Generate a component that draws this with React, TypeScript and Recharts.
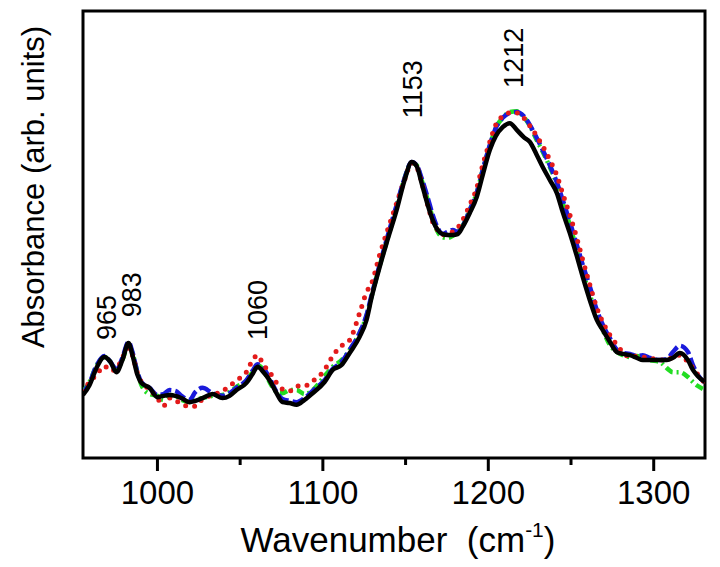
import React from 'react';
import { LineChart, Line, XAxis, YAxis, ReferenceDot, ReferenceArea, Label, Customized } from 'recharts';

const wavenumbers = [955, 958.9, 963.1, 967.9, 971.6, 975.2, 978.8, 982.5, 984.9, 987.9, 990.3, 995.2, 1000, 1003.6, 1007.3, 1010.9, 1014.5, 1019.4, 1023.0, 1027.2, 1033.3, 1039.3, 1043.6, 1047.8, 1053.8, 1057.5, 1060.5, 1064.1, 1067.8, 1072.0, 1075.6, 1079.9, 1084.1, 1088.9, 1093.8, 1101.0, 1105.9, 1111.3, 1116.2, 1122.2, 1126.4, 1129.5, 1134.3, 1138.5, 1144.6, 1149.4, 1153.7, 1156.7, 1159.7, 1163.4, 1166.4, 1169.4, 1172.4, 1175.5, 1178.5, 1181.5, 1184.5, 1188.8, 1193.0, 1196.6, 1200.9, 1204.5, 1208.7, 1213.0, 1217.2, 1221.4, 1225.1, 1229.3, 1232.9, 1237.2, 1241.4, 1245.0, 1249.3, 1253.5, 1257.1, 1261.4, 1265.6, 1269.2, 1273.5, 1277.7, 1281.3, 1285.6, 1289.8, 1293.4, 1297.7, 1303.7, 1307.9, 1311.6, 1315.8, 1320.7, 1323.7, 1326.7, 1331];

const blackSpectrum = [14.1, 16.3, 20.1, 22.6, 21.5, 19.2, 21.9, 25.7, 23.0, 18.6, 16.8, 15.7, 13.6, 13.9, 14.1, 13.9, 13.4, 12.5, 12.8, 13.4, 14.3, 13.4, 13.9, 15.2, 16.8, 18.8, 20.4, 19.2, 17.4, 14.5, 12.5, 12.3, 11.9, 13.0, 14.5, 17.0, 19.7, 20.8, 23.5, 27.1, 30.9, 36.0, 42.7, 48.1, 55.5, 62.2, 66.2, 65.3, 61.5, 56.6, 53.2, 51.0, 50.1, 49.9, 49.9, 50.1, 51.7, 54.8, 58.4, 63.3, 68.9, 72.0, 74.0, 74.9, 73.4, 71.8, 70.7, 67.8, 65.1, 62.2, 59.3, 55.0, 50.3, 45.2, 40.5, 35.3, 30.9, 28.6, 26.0, 23.7, 23.3, 23.0, 22.4, 21.9, 21.9, 21.9, 21.9, 22.4, 23.5, 21.9, 19.7, 18.3, 17.0];

const blueSpectrum = [14.5, 16.8, 20.6, 22.8, 21.5, 19.7, 22.4, 26.0, 23.7, 19.2, 17.0, 15.7, 14.1, 14.3, 15.2, 15.0, 13.9, 13.0, 14.8, 15.7, 14.5, 13.9, 14.5, 15.7, 17.4, 19.5, 21.0, 20.1, 17.9, 14.8, 13.2, 12.8, 12.5, 13.4, 15.0, 17.4, 19.9, 21.5, 24.2, 28.0, 32.0, 36.5, 43.2, 48.8, 56.6, 62.6, 66.2, 65.5, 62.6, 58.2, 54.4, 51.5, 50.1, 50.6, 51.0, 50.6, 51.9, 55.5, 59.3, 64.4, 70.0, 73.8, 76.1, 77.2, 77.4, 76.5, 74.5, 71.6, 68.9, 65.5, 61.7, 57.7, 52.8, 47.7, 43.2, 38.3, 33.1, 29.8, 26.8, 24.2, 23.5, 23.3, 22.8, 23.0, 22.4, 21.9, 22.1, 23.7, 25.1, 23.7, 20.8, 18.6, 16.8];

const greenSpectrum = [14.8, 17.0, 20.6, 22.6, 21.5, 19.7, 21.9, 25.3, 23.5, 19.2, 16.3, 14.3, 13.9, 13.0, 14.1, 13.9, 13.0, 12.5, 13.0, 13.4, 13.9, 14.1, 14.8, 15.9, 17.4, 19.2, 20.8, 19.7, 17.0, 14.8, 14.5, 15.2, 15.2, 14.3, 15.2, 18.3, 20.4, 21.9, 24.2, 28.0, 31.8, 36.2, 43.0, 48.3, 56.2, 62.6, 66.0, 65.5, 62.2, 57.7, 53.7, 50.6, 49.4, 49.2, 49.7, 50.6, 51.9, 55.5, 59.3, 64.4, 69.8, 73.8, 76.1, 77.4, 77.6, 76.3, 74.3, 71.1, 68.5, 65.1, 61.3, 57.0, 52.1, 46.5, 41.6, 36.5, 31.8, 28.6, 25.3, 23.7, 23.0, 22.6, 22.8, 22.4, 21.9, 21.5, 20.1, 19.2, 19.2, 18.1, 17.0, 16.1, 15.2];

const redSpectrum = [14.8, 17.0, 18.6, 20.6, 19.5, 19.9, 22.4, 24.6, 23.0, 19.0, 17.0, 15.4, 13.4, 11.6, 13.4, 13.0, 11.9, 11.6, 11.6, 13.2, 14.1, 15.0, 16.1, 17.4, 19.2, 21.9, 23.0, 20.8, 19.2, 16.8, 15.4, 15.0, 16.1, 16.1, 17.2, 19.7, 22.8, 25.1, 26.4, 32.4, 37.1, 39.1, 45.4, 50.3, 57.0, 62.2, 66.0, 65.1, 61.7, 56.6, 52.8, 51.0, 49.9, 50.3, 50.6, 51.5, 53.2, 56.6, 60.4, 65.5, 70.7, 74.5, 76.5, 77.2, 77.2, 76.1, 74.3, 72.0, 69.8, 66.7, 63.3, 59.1, 54.4, 49.2, 44.3, 38.7, 33.6, 30.4, 27.5, 25.3, 23.7, 22.6, 22.8, 22.6, 22.4, 21.9, 21.9, 22.6, 23.0, 21.5, 20.1, 18.6, 16.8];

const xTicks = [1000, 1050, 1100, 1150, 1200, 1250, 1300];
const majorTickLabels = ['1000', '1100', '1200', '1300'];

const peakLabels = ['965', '983', '1060', '1153', '1212'];
const peakLabelX = [969, 984, 1060, 1154, 1215];
const peakLabelY = [26.4, 31.5, 26.4, 76.0, 82.8];

const X_DOMAIN: [number, number] = [955, 1331];
const Y_DOMAIN: [number, number] = [0, 100];

const data = wavenumbers.map((w, i) => ({
  w,
  black: blackSpectrum[i],
  blue: blueSpectrum[i],
  green: greenSpectrum[i],
  red: redSpectrum[i],
}));

const FONT = 'Liberation Sans, Arial, sans-serif';

const XTick = (props: any) => {
  const { x, y, payload } = props;
  const label = String(payload.value);
  const major = majorTickLabels.includes(label);
  return (
    <g>
      <line x1={x} x2={x} y1={y} y2={y + (major ? 13 : 7)} stroke="#000" strokeWidth={3} />
      {major && (
        <text x={x} y={y + 46} textAnchor="middle" fontSize={33} fontFamily={FONT} fill="#000">
          {label}
        </text>
      )}
    </g>
  );
};

const XTitle = () => (
  <text x={398} y={552} textAnchor="middle" fontSize={35} fontFamily={FONT} fill="#000">
    Wavenumber{'\u00a0\u00a0'}(cm
    <tspan fontSize={21} dy={-15}>-1</tspan>
    <tspan dy={15}>)</tspan>
  </text>
);

const YTitle = () => (
  <text
    transform="translate(44,187) rotate(-90)"
    textAnchor="middle"
    fontSize={31}
    fontFamily={FONT}
    fill="#000"
  >
    Absorbance (arb. units)
  </text>
);

const peakShape = (label: string) => (p: any) => {
  if (p.cx == null || p.cy == null) return <g />;
  return (
    <text
      transform={`translate(${p.cx + 10},${p.cy}) rotate(-90)`}
      textAnchor="start"
      fontSize={27}
      fontFamily={FONT}
      fill="#000"
    >
      {label}
    </text>
  );
};

export default function App() {
  return (
    <div style={{ position: 'absolute', left: 0, top: 0, background: '#fff' }}>
      <LineChart
        width={720}
        height={567}
        data={data}
        margin={{ top: 11, right: 15, bottom: 0, left: 83 }}
      >
        <XAxis
          dataKey="w"
          type="number"
          domain={X_DOMAIN}
          ticks={xTicks}
          allowDataOverflow
          height={109}
          tickSize={0}
          tickMargin={0}
          tickLine={false}
          axisLine={false}
          tick={<XTick />}
          interval={0}
        >
          <Label content={<XTitle />} />
        </XAxis>
        <YAxis type="number" domain={Y_DOMAIN} width={0} tick={false} tickLine={false} axisLine={false} />
        <Line type="monotone" dataKey="green" stroke="#22dd22" strokeWidth={4.5} strokeDasharray="8 4 2 4" dot={false} isAnimationActive={false} />
        <Line type="monotone" dataKey="blue" stroke="#1a1adb" strokeWidth={4.5} strokeDasharray="12 4" dot={false} isAnimationActive={false} />
        <Line type="monotone" dataKey="red" stroke="#e31a1a" strokeWidth={5} strokeDasharray="0 9" strokeLinecap="round" dot={false} isAnimationActive={false} />
        <Line type="monotone" dataKey="black" stroke="#000" strokeWidth={4.5} dot={false} isAnimationActive={false} />
        <ReferenceArea x1={X_DOMAIN[0]} x2={X_DOMAIN[1]} y1={Y_DOMAIN[0]} y2={Y_DOMAIN[1]} fill="none" fillOpacity={0} stroke="#000" strokeWidth={3} strokeOpacity={1} ifOverflow="visible" />
        {peakLabels.map((lab, i) => (
          <ReferenceDot key={lab} x={peakLabelX[i]} y={peakLabelY[i]} r={0} shape={peakShape(lab)} ifOverflow="visible" />
        ))}
        <Customized component={YTitle} />
      </LineChart>
    </div>
  );
}
